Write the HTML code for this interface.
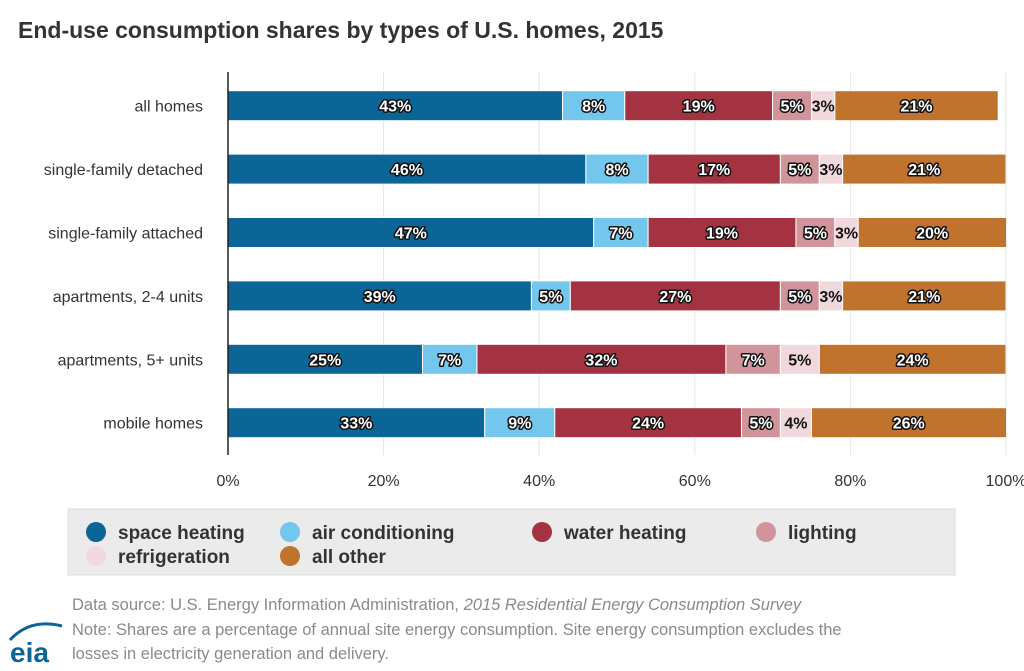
<!DOCTYPE html>
<html><head><meta charset="utf-8"><style>
body{margin:0;background:#fff;font-family:"Liberation Sans",Arial,sans-serif;}
svg text{font-family:"Liberation Sans",Arial,sans-serif;}
</style></head><body>
<svg id="chart" width="1024" height="666" viewBox="0 0 1024 666">
<defs><clipPath id="pc"><rect x="228" y="70" width="778" height="400"/></clipPath></defs>
<text x="18" y="38" font-size="23" font-weight="bold" fill="#333">End-use consumption shares by types of U.S. homes, 2015</text>
<g id="grid"></g>
<g id="bars" clip-path="url(#pc)"></g>
<g id="labels"></g>
<line x1="228" y1="72" x2="228" y2="455" stroke="#222" stroke-width="1.5"/>
<g id="xticks"></g>
<g id="cats"></g>
<rect x="68" y="509" width="887" height="66" fill="#ebebeb" stroke="#ddd"/>
<g id="legend"></g>
<text x="72" y="610" font-size="16.5" fill="#8a8a8a">Data source: U.S. Energy Information Administration, <tspan font-style="italic">2015 Residential Energy Consumption Survey</tspan></text>
<text x="72" y="635" font-size="16.5" fill="#8a8a8a">Note: Shares are a percentage of annual site energy consumption. Site energy consumption excludes the</text>
<text x="72" y="659" font-size="16.5" fill="#8a8a8a">losses in electricity generation and delivery.</text>
<g>
<path d="M10 640 Q30 618 62 626" stroke="#0b6596" stroke-width="3" fill="none"/>
<text x="10" y="662" font-size="28" font-weight="bold" fill="#0b6596">eia</text>
</g>
</svg>
<script>
const categories=["all homes","single-family detached","single-family attached","apartments, 2-4 units","apartments, 5+ units","mobile homes"];
const seriesNames=["space heating","air conditioning","water heating","lighting","refrigeration","all other"];
const spaceHeating=[43,46,47,39,25,33];
const airConditioning=[8,8,7,5,7,9];
const waterHeating=[19,17,19,27,32,24];
const lighting=[5,5,5,5,7,5];
const refrigeration=[3,3,3,3,5,4];
const allOther=[21,21,20,21,24,26];
const xTicks=[0,20,40,60,80,100];
const series=[spaceHeating,airConditioning,waterHeating,lighting,refrigeration,allOther];
const colors=["#0b6596","#73c6ec","#a33340","#d0949a","#f1d8dc","#bf732c"];
const darkText=[false,false,false,false,true,false];
const NS="http://www.w3.org/2000/svg";
const x0=228,x1=1006,yTop=74,rowH=63.4,barH=30;
const xs=v=>x0+(x1-x0)*v/100;
const yc=i=>yTop+rowH*(i+0.5);
function mk(t,a,p){const e=document.createElementNS(NS,t);for(const k in a)e.setAttribute(k,a[k]);p.appendChild(e);return e;}
const G=id=>document.getElementById(id);
xTicks.forEach(t=>{
 if(t>0){const l=mk('line',{x1:xs(t),x2:xs(t),y1:72,y2:455,stroke:'#e3e3e3'},G('grid'));
 
 }
 const tx=mk('text',{x:xs(t),y:486,'font-size':16,fill:'#333','text-anchor':'middle'},G('xticks'));
 tx.textContent=t+'%';
 
 
});
categories.forEach((c,i)=>{
 const tx=mk('text',{x:203,y:yc(i)+6,'font-size':16,fill:'#333','text-anchor':'end'},G('cats'));
 tx.textContent=c;
 
 
 let acc=0;
 series.forEach((s,j)=>{
  const v=s[i];
  const r=mk('rect',{x:xs(acc),y:yc(i)-barH/2,width:xs(acc+v)-xs(acc),height:barH,fill:colors[j],stroke:'#fff','stroke-width':1},G('bars'));
  
  
  const mid=xs(Math.min(acc+v/2,acc+ (Math.min(acc+v,100)-acc)/2));
  const lb=mk('text',{x:mid,y:yc(i)+6,'font-size':16,'font-weight':'bold','text-anchor':'middle',fill:darkText[j]?'#111':'#fff',stroke:darkText[j]?'none':'#111','stroke-width':3,'paint-order':'stroke','stroke-linejoin':'round'},G('labels'));
  lb.textContent=v+'%';
  
  
  acc+=v;
 });
});
const legX=[96,290,542,766],legY=[532,556];
seriesNames.forEach((n,j)=>{
 const col=j<4?j:j-4,row=j<4?0:1;
 const lx=row==0?legX[col]:legX[col];
 const c=mk('circle',{cx:lx,cy:legY[row],r:10,fill:colors[j]},G('legend'));
 
 
 const t=mk('text',{x:lx+22,y:legY[row]+7,'font-size':19,'font-weight':'bold',fill:'#333'},G('legend'));
 t.textContent=n;
 
 
});
</script>
</body></html>
